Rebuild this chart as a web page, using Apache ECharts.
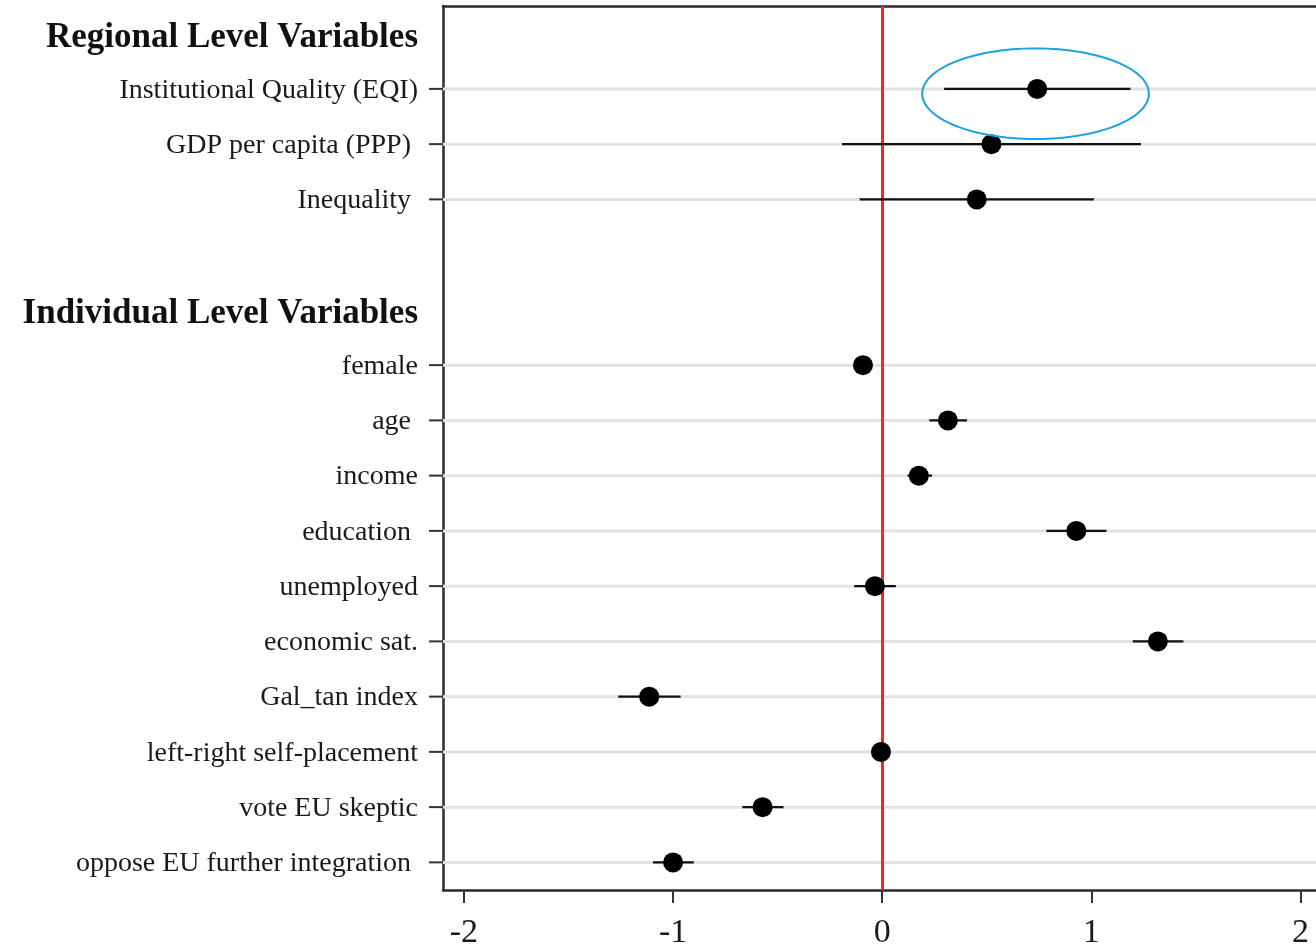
<!DOCTYPE html>
<html>
<head>
<meta charset="utf-8">
<script src="https://cdn.jsdelivr.net/npm/echarts@6/dist/echarts.min.js"></script>
<style>
html,body{margin:0;padding:0;background:#fff;}
#chart{width:1316px;height:947px;}
</style>
</head>
<body>
<div id="chart"></div>
<script>
// ---- data ----
var categories = [
  'Regional Level Variables',
  'Institutional Quality (EQI)',
  'GDP per capita (PPP) ',
  'Inequality ',
  '',
  'Individual Level Variables',
  'female',
  'age ',
  'income',
  'education ',
  'unemployed',
  'economic sat.',
  'Gal_tan index',
  'left-right self-placement',
  'vote EU skeptic',
  'oppose EU further integration '
];
var headers = ['Regional Level Variables', 'Individual Level Variables'];
var estimates = [null, 0.741, 0.522, 0.452, null, null, -0.092, 0.314, 0.175, 0.928, -0.035, 1.318, -1.114, -0.006, -0.572, -1.0];
var lower     = [null, 0.296, -0.192, -0.108, null, null, -0.115, 0.225, 0.121, 0.785, -0.134, 1.198, -1.262, -0.02, -0.669, -1.096];
var upper     = [null, 1.187, 1.237, 1.012, null, null, -0.07, 0.405, 0.238, 1.072, 0.065, 1.44, -0.964, 0.008, -0.472, -0.901];
var xTicks = [-2, -1, 0, 1, 2];
// highlight ellipse: [centre x, category, x radius (units), y radius (rows), y offset (rows)]
var highlight = [[0.733, 1, 0.542, 0.82, 0.087]];

var chart = echarts.init(document.getElementById('chart'));
var FONT = '"Liberation Serif", "DejaVu Serif", serif';

var pointData = [], barData = [], rowData = [];
for (var i = 0; i < categories.length; i++) {
  if (estimates[i] !== null) {
    pointData.push([estimates[i], i]);
    barData.push([lower[i], upper[i], i]);
    rowData.push([0, i]);
  }
}

var axisDark = '#2b2b2b';
var option = {
  animation: false,
  backgroundColor: '#fff',
  grid: { left: 443, top: 6, right: 0, height: 884, show: false, outerBoundsMode: 'none', containLabel: false },
  xAxis: [{
    type: 'value', min: -2.1, max: 2.074,
    axisLine: { show: true, onZero: false, lineStyle: { color: axisDark, width: 2.5 } },
    axisTick: { show: true, customValues: xTicks, length: 13, lineStyle: { color: '#333', width: 2 } },
    axisLabel: { customValues: xTicks, fontFamily: FONT, fontSize: 34, color: '#1a1a1a', margin: 26 },
    splitLine: { show: false }
  }, {
    type: 'value', min: -2.1, max: 2.074, position: 'top',
    axisLine: { show: true, onZero: false, lineStyle: { color: axisDark, width: 2.5 } },
    axisTick: { show: false }, axisLabel: { show: false }, splitLine: { show: false }
  }],
  yAxis: {
    type: 'category', inverse: true, data: categories, position: 'left',
    axisLine: { show: true, onZero: false, lineStyle: { color: axisDark, width: 2.5 } },
    axisTick: { show: false },
    axisLabel: {
      interval: 0, margin: 25,
      formatter: function (v) {
        if (v === '') return '';
        return headers.indexOf(v) >= 0 ? '{h|' + v + '}' : '{n|' + v + '}';
      },
      rich: {
        h: { fontFamily: FONT, fontSize: 35, fontWeight: 'bold', color: '#111', padding: [8, 0, 0, 0] },
        n: { fontFamily: FONT, fontSize: 28, color: '#1a1a1a', padding: [3, 0, 0, 0] }
      }
    },
    splitLine: { show: false }
  },
  series: [
    {
      type: 'custom', z: 1, silent: true, clip: false,
      data: rowData,
      renderItem: function (params, api) {
        var y = api.coord([0, api.value(1)])[1];
        var cs = params.coordSys;
        return { type: 'group', children: [
          { type: 'line', shape: { x1: cs.x, y1: y, x2: cs.x + cs.width, y2: y },
            style: { stroke: '#e2e2e2', lineWidth: 3 } },
          { type: 'line', shape: { x1: cs.x - 14, y1: y, x2: cs.x, y2: y },
            style: { stroke: '#333', lineWidth: 2 } }
        ] };
      },
      markLine: {
        silent: true, symbol: 'none', z: 2, animation: false,
        label: { show: false },
        lineStyle: { color: '#ff2020', width: 3, type: 'solid' },
        data: [{ xAxis: 0 }]
      }
    },
    {
      type: 'custom', z: 3, silent: true,
      data: barData,
      renderItem: function (params, api) {
        var a = api.coord([api.value(0), api.value(2)]);
        var b = api.coord([api.value(1), api.value(2)]);
        return { type: 'line', shape: { x1: a[0], y1: a[1], x2: b[0], y2: b[1] },
                 style: { stroke: '#111', lineWidth: 2.2 } };
      }
    },
    {
      type: 'scatter', z: 4, silent: true,
      data: pointData, symbol: 'circle', symbolSize: 20,
      itemStyle: { color: '#000', opacity: 1 }
    },
    {
      type: 'custom', z: 5, silent: true,
      data: highlight,
      renderItem: function (params, api) {
        var c = api.coord([api.value(0), api.value(1)]);
        var sz = api.size([1, 1]);
        var rx = api.value(2) * sz[0];
        var ry = api.value(3) * sz[1];
        var cy = c[1] + api.value(4) * sz[1];
        var pts = [];
        for (var k = 0; k < 120; k++) {
          var t = k / 120 * Math.PI * 2;
          pts.push([c[0] + rx * Math.cos(t), cy + ry * Math.sin(t)]);
        }
        return { type: 'polygon', shape: { points: pts },
                 style: { fill: 'none', stroke: '#1ea1e3', lineWidth: 2 } };
      }
    }
  ]
};
chart.setOption(option);
</script>
</body>
</html>
